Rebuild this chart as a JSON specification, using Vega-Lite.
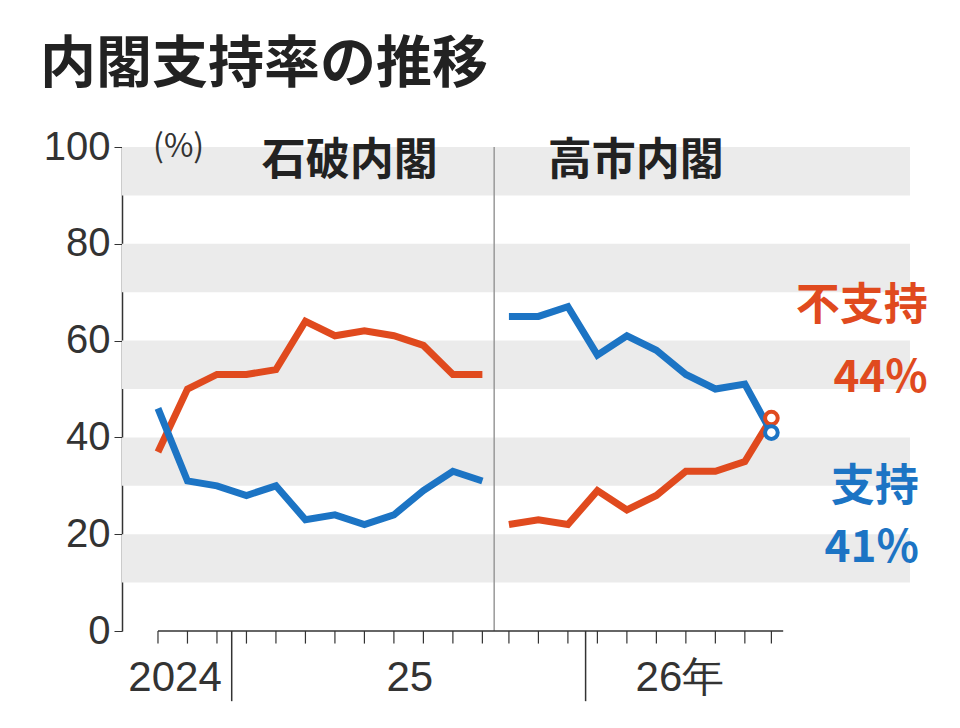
{
"$schema":"https://vega.github.io/schema/vega-lite/v6.json",
"width":788,"height":484,
"autosize":{"type":"none"},
"padding":{"left":122,"top":147,"right":50,"bottom":97},
"background":"white",
"config":{"view":{"stroke":null},"font":"Noto Sans CJK JP"},
"resolve":{"scale":{"x":"shared"}},
"datasets":{
"bands":[{"a":10,"b":20},{"a":30,"b":40},{"a":50,"b":60},{"a":70,"b":80},{"a":90,"b":100}],
"pts":[
{"i":0,"v":37,"s":"不支持","p":"A"},{"i":1,"v":50,"s":"不支持","p":"A"},{"i":2,"v":53,"s":"不支持","p":"A"},{"i":3,"v":53,"s":"不支持","p":"A"},{"i":4,"v":54,"s":"不支持","p":"A"},{"i":5,"v":64,"s":"不支持","p":"A"},{"i":6,"v":61,"s":"不支持","p":"A"},{"i":7,"v":62,"s":"不支持","p":"A"},{"i":8,"v":61,"s":"不支持","p":"A"},{"i":9,"v":59,"s":"不支持","p":"A"},{"i":10,"v":53,"s":"不支持","p":"A"},{"i":11,"v":53,"s":"不支持","p":"A"},
{"i":0,"v":46,"s":"支持","p":"A"},{"i":1,"v":31,"s":"支持","p":"A"},{"i":2,"v":30,"s":"支持","p":"A"},{"i":3,"v":28,"s":"支持","p":"A"},{"i":4,"v":30,"s":"支持","p":"A"},{"i":5,"v":23,"s":"支持","p":"A"},{"i":6,"v":24,"s":"支持","p":"A"},{"i":7,"v":22,"s":"支持","p":"A"},{"i":8,"v":24,"s":"支持","p":"A"},{"i":9,"v":29,"s":"支持","p":"A"},{"i":10,"v":33,"s":"支持","p":"A"},{"i":11,"v":31,"s":"支持","p":"A"},
{"i":11.9,"v":22,"s":"不支持","p":"B"},{"i":12.9,"v":23,"s":"不支持","p":"B"},{"i":13.9,"v":22,"s":"不支持","p":"B"},{"i":14.9,"v":29,"s":"不支持","p":"B"},{"i":15.9,"v":25,"s":"不支持","p":"B"},{"i":16.9,"v":28,"s":"不支持","p":"B"},{"i":17.9,"v":33,"s":"不支持","p":"B"},{"i":18.9,"v":33,"s":"不支持","p":"B"},{"i":19.9,"v":35,"s":"不支持","p":"B"},{"i":20.8,"v":44,"s":"不支持","p":"B"},
{"i":11.9,"v":65,"s":"支持","p":"B"},{"i":12.9,"v":65,"s":"支持","p":"B"},{"i":13.9,"v":67,"s":"支持","p":"B"},{"i":14.9,"v":57,"s":"支持","p":"B"},{"i":15.9,"v":61,"s":"支持","p":"B"},{"i":16.9,"v":58,"s":"支持","p":"B"},{"i":17.9,"v":53,"s":"支持","p":"B"},{"i":18.9,"v":50,"s":"支持","p":"B"},{"i":19.9,"v":51,"s":"支持","p":"B"},{"i":20.8,"v":41,"s":"支持","p":"B"}
],
"ends":[{"i":20.8,"v":44,"s":"不支持"},{"i":20.8,"v":41,"s":"支持"}],
"ticks":[{"t":0},{"t":1},{"t":2},{"t":3},{"t":4},{"t":5},{"t":6},{"t":7},{"t":8},{"t":9},{"t":10},{"t":11},{"t":11.9},{"t":12.9},{"t":13.9},{"t":14.9},{"t":15.9},{"t":16.9},{"t":17.9},{"t":18.9},{"t":19.9},{"t":20.8}],
"years":[{"x":0.58,"lab":"2024"},{"x":8.54,"lab":"25"},{"x":17.7,"lab":"26年"}],
"divs":[{"x":2.5},{"x":14.5}],
"labels":[
{"x":26.1,"y":67,"lab":"不支持","s":"不支持"},{"x":26.1,"y":52,"lab":"44%","s":"不支持"},
{"x":25.8,"y":29.5,"lab":"支持","s":"支持"},{"x":25.8,"y":17,"lab":"41%","s":"支持"}]
},
"layer":[
{"data":{"name":"bands"},"mark":{"type":"rect","color":"#ebebeb"},
 "encoding":{"y":{"field":"a","type":"quantitative","scale":{"domain":[0,100]},
   "axis":{"values":[0,20,40,60,80,100],"labelFontSize":40,"labelFont":"Liberation Sans","labelColor":"#333","labelPadding":4,"tickSize":8,"tickColor":"#333","domainColor":"#333","domainWidth":1.5,"title":null,"grid":false}},
  "y2":{"field":"b"}}},
{"data":{"values":[{"x":11.4}]},"mark":{"type":"rule","color":"#999","strokeWidth":1.5},
 "encoding":{"x":{"field":"x","type":"quantitative","scale":{"domain":[-1.22,25.5],"nice":false,"zero":false},"axis":null},"y":{"datum":0},"y2":{"datum":100}}},
{"data":{"values":[{"a":0,"b":21.2}]},"mark":{"type":"rule","color":"#333","strokeWidth":1.5},
 "encoding":{"x":{"field":"a","type":"quantitative","scale":{"domain":[-1.22,25.5],"nice":false,"zero":false}},"x2":{"field":"b"},"y":{"datum":0}}},
{"data":{"name":"ticks"},"mark":{"type":"rule","color":"#333","strokeWidth":1.2},
 "encoding":{"x":{"field":"t","type":"quantitative","scale":{"domain":[-1.22,25.5],"nice":false,"zero":false}},"y":{"datum":0},"y2":{"datum":-2.6}}},
{"data":{"name":"divs"},"mark":{"type":"rule","color":"#333","strokeWidth":1.5},
 "encoding":{"x":{"field":"x","type":"quantitative","scale":{"domain":[-1.22,25.5],"nice":false,"zero":false}},"y":{"datum":0},"y2":{"datum":-14.5}}},
{"data":{"name":"years"},"mark":{"type":"text","fontSize":42,"font":"Liberation Sans","color":"#333","baseline":"alphabetic"},
 "encoding":{"x":{"field":"x","type":"quantitative","scale":{"domain":[-1.22,25.5],"nice":false,"zero":false}},"y":{"datum":-12.3},"text":{"field":"lab"}}},
{"data":{"name":"pts"},"mark":{"type":"line","strokeWidth":7,"strokeJoin":"miter","strokeCap":"butt"},
 "encoding":{"x":{"field":"i","type":"quantitative","scale":{"domain":[-1.22,25.5],"nice":false,"zero":false}},"y":{"field":"v","type":"quantitative"},
  "color":{"field":"s","type":"nominal","scale":{"domain":["不支持","支持"],"range":["#e04a1e","#1c74c4"]},"legend":null},
  "detail":{"field":"p"}}},
{"data":{"name":"ends"},"mark":{"type":"point","filled":true,"fill":"white","strokeWidth":4,"size":160,"opacity":1},
 "encoding":{"x":{"field":"i","type":"quantitative","scale":{"domain":[-1.22,25.5],"nice":false,"zero":false}},"y":{"field":"v","type":"quantitative"},"stroke":{"field":"s","type":"nominal","scale":{"domain":["不支持","支持"],"range":["#e04a1e","#1c74c4"]},"legend":null}}},
{"data":{"values":[{"x":6.5,"y":97,"t":"石破内閣"},{"x":16.2,"y":97,"t":"高市内閣"}]},"mark":{"type":"text","fontSize":44,"fontWeight":"bold","color":"#222","baseline":"middle"},
 "encoding":{"x":{"field":"x","type":"quantitative","scale":{"domain":[-1.22,25.5],"nice":false,"zero":false}},"y":{"field":"y","type":"quantitative"},"text":{"field":"t"}}},
{"data":{"values":[{"x":0.7,"y":100,"t":"(%)"}]},"mark":{"type":"text","fontSize":32,"color":"#333","baseline":"middle"},
 "encoding":{"x":{"field":"x","type":"quantitative","scale":{"domain":[-1.22,25.5],"nice":false,"zero":false}},"y":{"field":"y","type":"quantitative"},"text":{"field":"t"}}},
{"data":{"name":"labels"},"mark":{"type":"text","fontSize":44,"fontWeight":"bold","align":"right","baseline":"middle"},
 "encoding":{"x":{"field":"x","type":"quantitative","scale":{"domain":[-1.22,25.5],"nice":false,"zero":false}},"y":{"field":"y","type":"quantitative"},"text":{"field":"lab"},
  "color":{"field":"s","type":"nominal","scale":{"domain":["不支持","支持"],"range":["#e04a1e","#1c74c4"]},"legend":null}}},
{"data":{"values":[{"x":-4.0,"y":117,"t":"内閣支持率の推移"}]},"mark":{"type":"text","fontSize":56,"fontWeight":"bold","color":"#222","align":"left","baseline":"middle"},
 "encoding":{"x":{"field":"x","type":"quantitative","scale":{"domain":[-1.22,25.5],"nice":false,"zero":false}},"y":{"field":"y","type":"quantitative"},"text":{"field":"t"}}}
]
}
